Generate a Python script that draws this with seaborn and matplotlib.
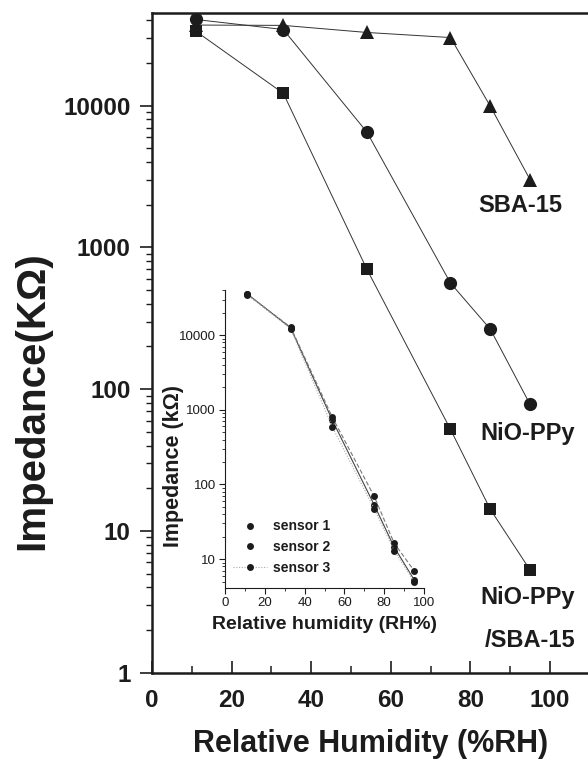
import matplotlib
matplotlib.use("Agg")
import matplotlib.pyplot as plt
import seaborn as sns
import numpy as np
import pandas as pd
from matplotlib.ticker import LogLocator, NullFormatter, FixedLocator, FixedFormatter, MultipleLocator

# ---------------- data ----------------
rh = [11, 33, 54, 75, 85, 95]
nio_ppy_sba = [33500, 12200, 700, 52, 14.2, 5.3]       # squares
nio_ppy = [40500, 34400, 6500, 560, 265, 78]           # circles
sba15 = [37000, 36800, 32800, 30200, 9900, 3000]       # triangles

sensor1 = [36000, 12500, 720, 53, 14.5, 5.3]
sensor2 = [35500, 12800, 790, 69, 16.4, 7.0]
sensor3 = [35000, 12200, 585, 47, 13.0, 5.0]
sensor_names = ["sensor 1", "sensor 2", "sensor 3"]

main_xticks = [0, 20, 40, 60, 80, 100]
main_yticks = [1, 10, 100, 1000, 10000]
main_ytick_labels = ["1", "10", "100", "1000", "10000"]
inset_xticks = [0, 20, 40, 60, 80, 100]
inset_yticks = [10, 100, 1000, 10000]
inset_ytick_labels = ["10", "100", "1000", "10000"]

# ---------------- style ----------------
sns.set_style("ticks")
plt.rcParams["font.family"] = ["Liberation Sans", "DejaVu Sans"]
INK = "#1c1c1c"

W, H = 588, 761
fig = plt.figure(figsize=(W / 100, H / 100), dpi=100)

def px_axes(l, t, r, b):
    return [l / W, 1 - b / H, (r - l) / W, (b - t) / H]

# ---------------- main axes ----------------
ax = fig.add_axes(px_axes(152, 13, 152 + 110 * 3.98, 672.7))

series = [(nio_ppy_sba, "s", 8), (nio_ppy, "o", 9.5), (sba15, "^", 10)]
for vals, mk, ms in series:
    sns.lineplot(x=rh, y=vals, ax=ax, color="#333333", linewidth=0.7,
                 marker=mk, markersize=ms, markerfacecolor=INK,
                 markeredgecolor=INK, markeredgewidth=0, zorder=3,
                 clip_on=False)

ax.set_yscale("log")
ax.set_xlim(0, 110)
ax.set_ylim(1, 45000)

ax.xaxis.set_major_locator(FixedLocator(main_xticks))
ax.xaxis.set_minor_locator(MultipleLocator(10))
ax.yaxis.set_major_locator(FixedLocator(main_yticks))
ax.yaxis.set_major_formatter(FixedFormatter(main_ytick_labels))
ax.yaxis.set_minor_locator(LogLocator(base=10, subs=np.arange(2, 10)))
ax.yaxis.set_minor_formatter(NullFormatter())

ax.tick_params(axis="x", which="major", direction="in", length=8.5, width=1.2,
               pad=12, labelsize=17.5, colors=INK)
ax.tick_params(axis="x", which="minor", direction="in", length=5, width=1.1, colors=INK)
ax.tick_params(axis="y", which="major", direction="out", length=8.5, width=1.2,
               pad=7, labelsize=17.5, colors=INK)
ax.tick_params(axis="y", which="minor", direction="out", length=4, width=1.0, colors=INK)
for lab in ax.get_xticklabels() + ax.get_yticklabels():
    lab.set_fontweight("bold")

for side in ["left", "bottom", "top"]:
    ax.spines[side].set_linewidth(1.8)
    ax.spines[side].set_color(INK)
ax.spines["right"].set_visible(False)

ax.set_xlabel("Relative Humidity (%RH)", fontsize=22, fontweight="bold", color=INK)
ax.set_ylabel("Impedance(KΩ)", fontsize=29, fontweight="bold", color=INK)
ax.xaxis.set_label_coords(0.5, -0.085)
ax.yaxis.set_label_coords(-0.231, 0.412)

txt_kw = dict(fontsize=17, fontweight="bold", color=INK, ha="center", va="center")
ax.text(92.5, 1980, "SBA-15", **txt_kw)
ax.text(94.5, 49, "NiO-PPy", **txt_kw)
ax.text(94.5, 3.41, "NiO-PPy", **txt_kw)
ax.text(95.0, 1.70, "/SBA-15", **txt_kw)

# ---------------- inset axes ----------------
ins = fig.add_axes(px_axes(225, 290, 424, 588))
df = pd.DataFrame({
    "rh": rh * 3,
    "imp": sensor1 + sensor2 + sensor3,
    "sensor": [n for n in sensor_names for _ in rh],
})
sns.lineplot(data=df, x="rh", y="imp", hue="sensor", style="sensor", ax=ins,
             palette=["#444444", "#777777", "#aaaaaa"],
             dashes=[(None, None), (4, 2), (1, 1.5)],
             markers=["o", "o", "o"], markersize=5, linewidth=0.8,
             markeredgewidth=0, markerfacecolor=INK, markeredgecolor=INK)
ins.set_yscale("log")
ins.set_xlim(0, 100)
ins.set_ylim(4.1, 40300)
ins.xaxis.set_major_locator(FixedLocator(inset_xticks))
ins.xaxis.set_minor_locator(MultipleLocator(10))
ins.yaxis.set_major_locator(FixedLocator(inset_yticks))
ins.yaxis.set_major_formatter(FixedFormatter(inset_ytick_labels))
ins.yaxis.set_minor_locator(LogLocator(base=10, subs=np.arange(2, 10)))
ins.yaxis.set_minor_formatter(NullFormatter())
ins.tick_params(axis="both", which="major", direction="out", length=4, width=0.8,
                pad=2.5, labelsize=9.5, colors=INK)
ins.tick_params(axis="both", which="minor", direction="out", length=2, width=0.6, colors=INK)
for side in ["top", "right"]:
    ins.spines[side].set_visible(False)
for side in ["left", "bottom"]:
    ins.spines[side].set_linewidth(0.8)
    ins.spines[side].set_color(INK)
ins.set_facecolor("none")
ins.set_xlabel("Relative humidity (RH%)", fontsize=14, fontweight="bold", color=INK)
ins.set_ylabel("Impedance (kΩ)", fontsize=15.5, fontweight="bold", color=INK)
ins.xaxis.set_label_coords(0.5, -0.095)
ins.yaxis.set_label_coords(-0.206, 0.411)

leg = ins.legend(loc="lower left", bbox_to_anchor=(-0.01, 0.01), frameon=False,
                 fontsize=10, handlelength=2.5, handletextpad=0.4,
                 labelspacing=0.5, borderpad=0.2)
for t in leg.get_texts():
    t.set_fontweight("bold")
    t.set_color(INK)
for h in leg.get_lines()[:2]:
    h.set_linestyle("None")

fig.savefig("out.png", dpi=100)
